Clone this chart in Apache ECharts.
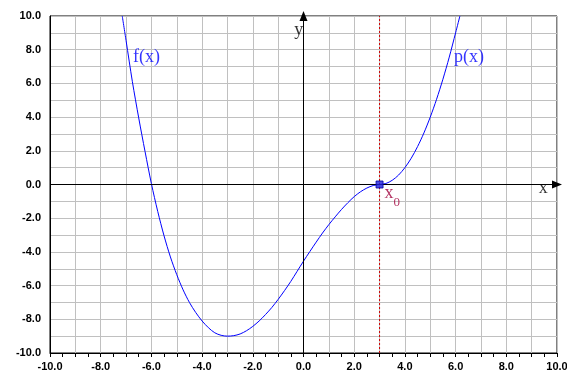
<!DOCTYPE html>
<html>
<head>
<meta charset="utf-8">
<script src="https://cdn.jsdelivr.net/npm/echarts@6/dist/echarts.min.js"></script>
<style>html,body{margin:0;padding:0;background:#fff}#c{width:567px;height:385px}</style>
</head>
<body>
<div id="c"></div>
<script>
// Curve: f(x) left of x0, p(x) right of x0
const curveX = [-7.15, -7.0, -6.75, -6.5, -6.25, -6.0, -5.75, -5.5, -5.25, -5.0, -4.75, -4.5, -4.25, -4.0, -3.75, -3.5, -3.25, -3.0, -2.75, -2.5, -2.25, -2.0, -1.75, -1.5, -1.25, -1.0, -0.75, -0.5, -0.25, 0.0, 0.25, 0.5, 0.75, 1.0, 1.25, 1.5, 1.75, 2.0, 2.25, 2.5, 2.75, 3.0, 3.25, 3.5, 3.75, 4.0, 4.25, 4.5, 4.75, 5.0, 5.25, 5.5, 5.75, 6.0, 6.17];
const curveY = [10.0, 8.55, 6.1, 3.95, 1.95, 0.05, -1.6, -3.05, -4.3, -5.35, -6.25, -7.0, -7.6, -8.1, -8.5, -8.8, -8.95, -9.0, -8.97, -8.87, -8.68, -8.42, -8.1, -7.72, -7.3, -6.82, -6.3, -5.75, -5.15, -4.55, -3.98, -3.42, -2.88, -2.38, -1.92, -1.48, -1.08, -0.72, -0.43, -0.21, -0.06, 0.0, 0.06, 0.25, 0.56, 1.0, 1.56, 2.25, 3.06, 4.0, 5.06, 6.25, 7.56, 9.0, 10.0];
const x0 = 3.0;
const y0 = 0.0;
const guideX = [3.0, 3.0];
const guideY = [-10, 10];
const tickLabels = [-10, -8, -6, -4, -2, 0, 2, 4, 6, 8, 10];
const textLabels = ['f(x)', 'p(x)', 'y', 'x'];
const textX = [-6.73, 5.94, -0.36, 9.28];
const textY = [7.57, 7.57, 9.17, -0.21];

const chart = echarts.init(document.getElementById('c'));
const serif = 'Liberation Serif';
const fmt = v => tickLabels.indexOf(Math.round(v)) >= 0 && Math.abs(v - Math.round(v)) < 1e-6 ? v.toFixed(1) : '';

chart.setOption({
  animation: false,
  grid: { left: 50, top: 16, right: 10, bottom: 32, show: true, borderColor: '#000', borderWidth: 1,
          containLabel: false, outerBoundsMode: 'none' },
  xAxis: {
    type: 'value', min: -10, max: 10, interval: 1,
    axisLine: { show: true, onZero: false, lineStyle: { color: '#000', width: 1 } },
    axisTick: { show: true, length: 4, lineStyle: { color: '#000' } },
    minorTick: { show: true, splitNumber: 2, length: 4, lineStyle: { color: '#000' } },
    splitLine: { show: true, lineStyle: { color: '#c0c0c0', width: 1 } },
    axisLabel: { formatter: fmt, fontFamily: 'Liberation Sans', fontWeight: 'bold', fontSize: 11, color: '#000', margin: 8,
                 showMinLabel: true, showMaxLabel: true, hideOverlap: false }
  },
  yAxis: {
    type: 'value', min: -10, max: 10, interval: 1,
    axisLine: { show: true, onZero: false, lineStyle: { color: '#000', width: 1 } },
    axisTick: { show: false },
    splitLine: { show: true, lineStyle: { color: '#c0c0c0', width: 1 } },
    axisLabel: { formatter: fmt, fontFamily: 'Liberation Sans', fontWeight: 'bold', fontSize: 11, color: '#000', margin: 9,
                 showMinLabel: true, showMaxLabel: true, hideOverlap: false }
  },
  series: [
    {
      type: 'line', data: guideX.map((x, i) => [x, guideY[i]]),
      showSymbol: false, silent: true,
      lineStyle: { color: '#d00000', width: 1, type: [2, 2] },
      z: 2
    },
    {
      type: 'line', data: curveX.map((x, i) => [x, curveY[i]]),
      smooth: 0.3, showSymbol: false, clip: true, silent: true,
      lineStyle: { color: '#0000ff', width: 1 },
      markLine: {
        silent: true, animation: false,
        label: { show: false },
        symbol: ['none', 'triangle'], symbolSize: [8, 10],
        lineStyle: { color: '#000', width: 1, type: 'solid' },
        itemStyle: { color: '#000' },
        data: [
          [{ coord: [-10, 0] }, { coord: [10, 0] }],
          [{ coord: [0, -10] }, { coord: [0, 10] }]
        ]
      },
      z: 3
    },
    {
      type: 'scatter', data: [[x0, y0]], symbol: 'rect', symbolSize: 7,
      itemStyle: { color: '#1f1fe0', borderColor: '#0000a0', borderWidth: 1 },
      label: {
        show: true, position: 'right', distance: 1, offset: [0, 9],
        formatter: '{a|x}{b|0}',
        rich: {
          a: { fontFamily: serif, fontSize: 18, color: '#a0003c' },
          b: { fontFamily: serif, fontSize: 13, color: '#a0003c', padding: [19, 0, 0, 0] }
        }
      },
      z: 5
    },
    {
      type: 'scatter', symbolSize: 0, silent: true,
      data: textLabels.map((t, i) => ({
        value: [textX[i], textY[i]], name: t,
        label: { color: (t === 'x' || t === 'y') ? '#000' : '#0000ff' }
      })),
      label: {
        show: true, position: 'right', distance: 0,
        formatter: p => p.name,
        fontFamily: serif, fontSize: 18
      },
      z: 6
    }
  ]
});
</script>
</body>
</html>
